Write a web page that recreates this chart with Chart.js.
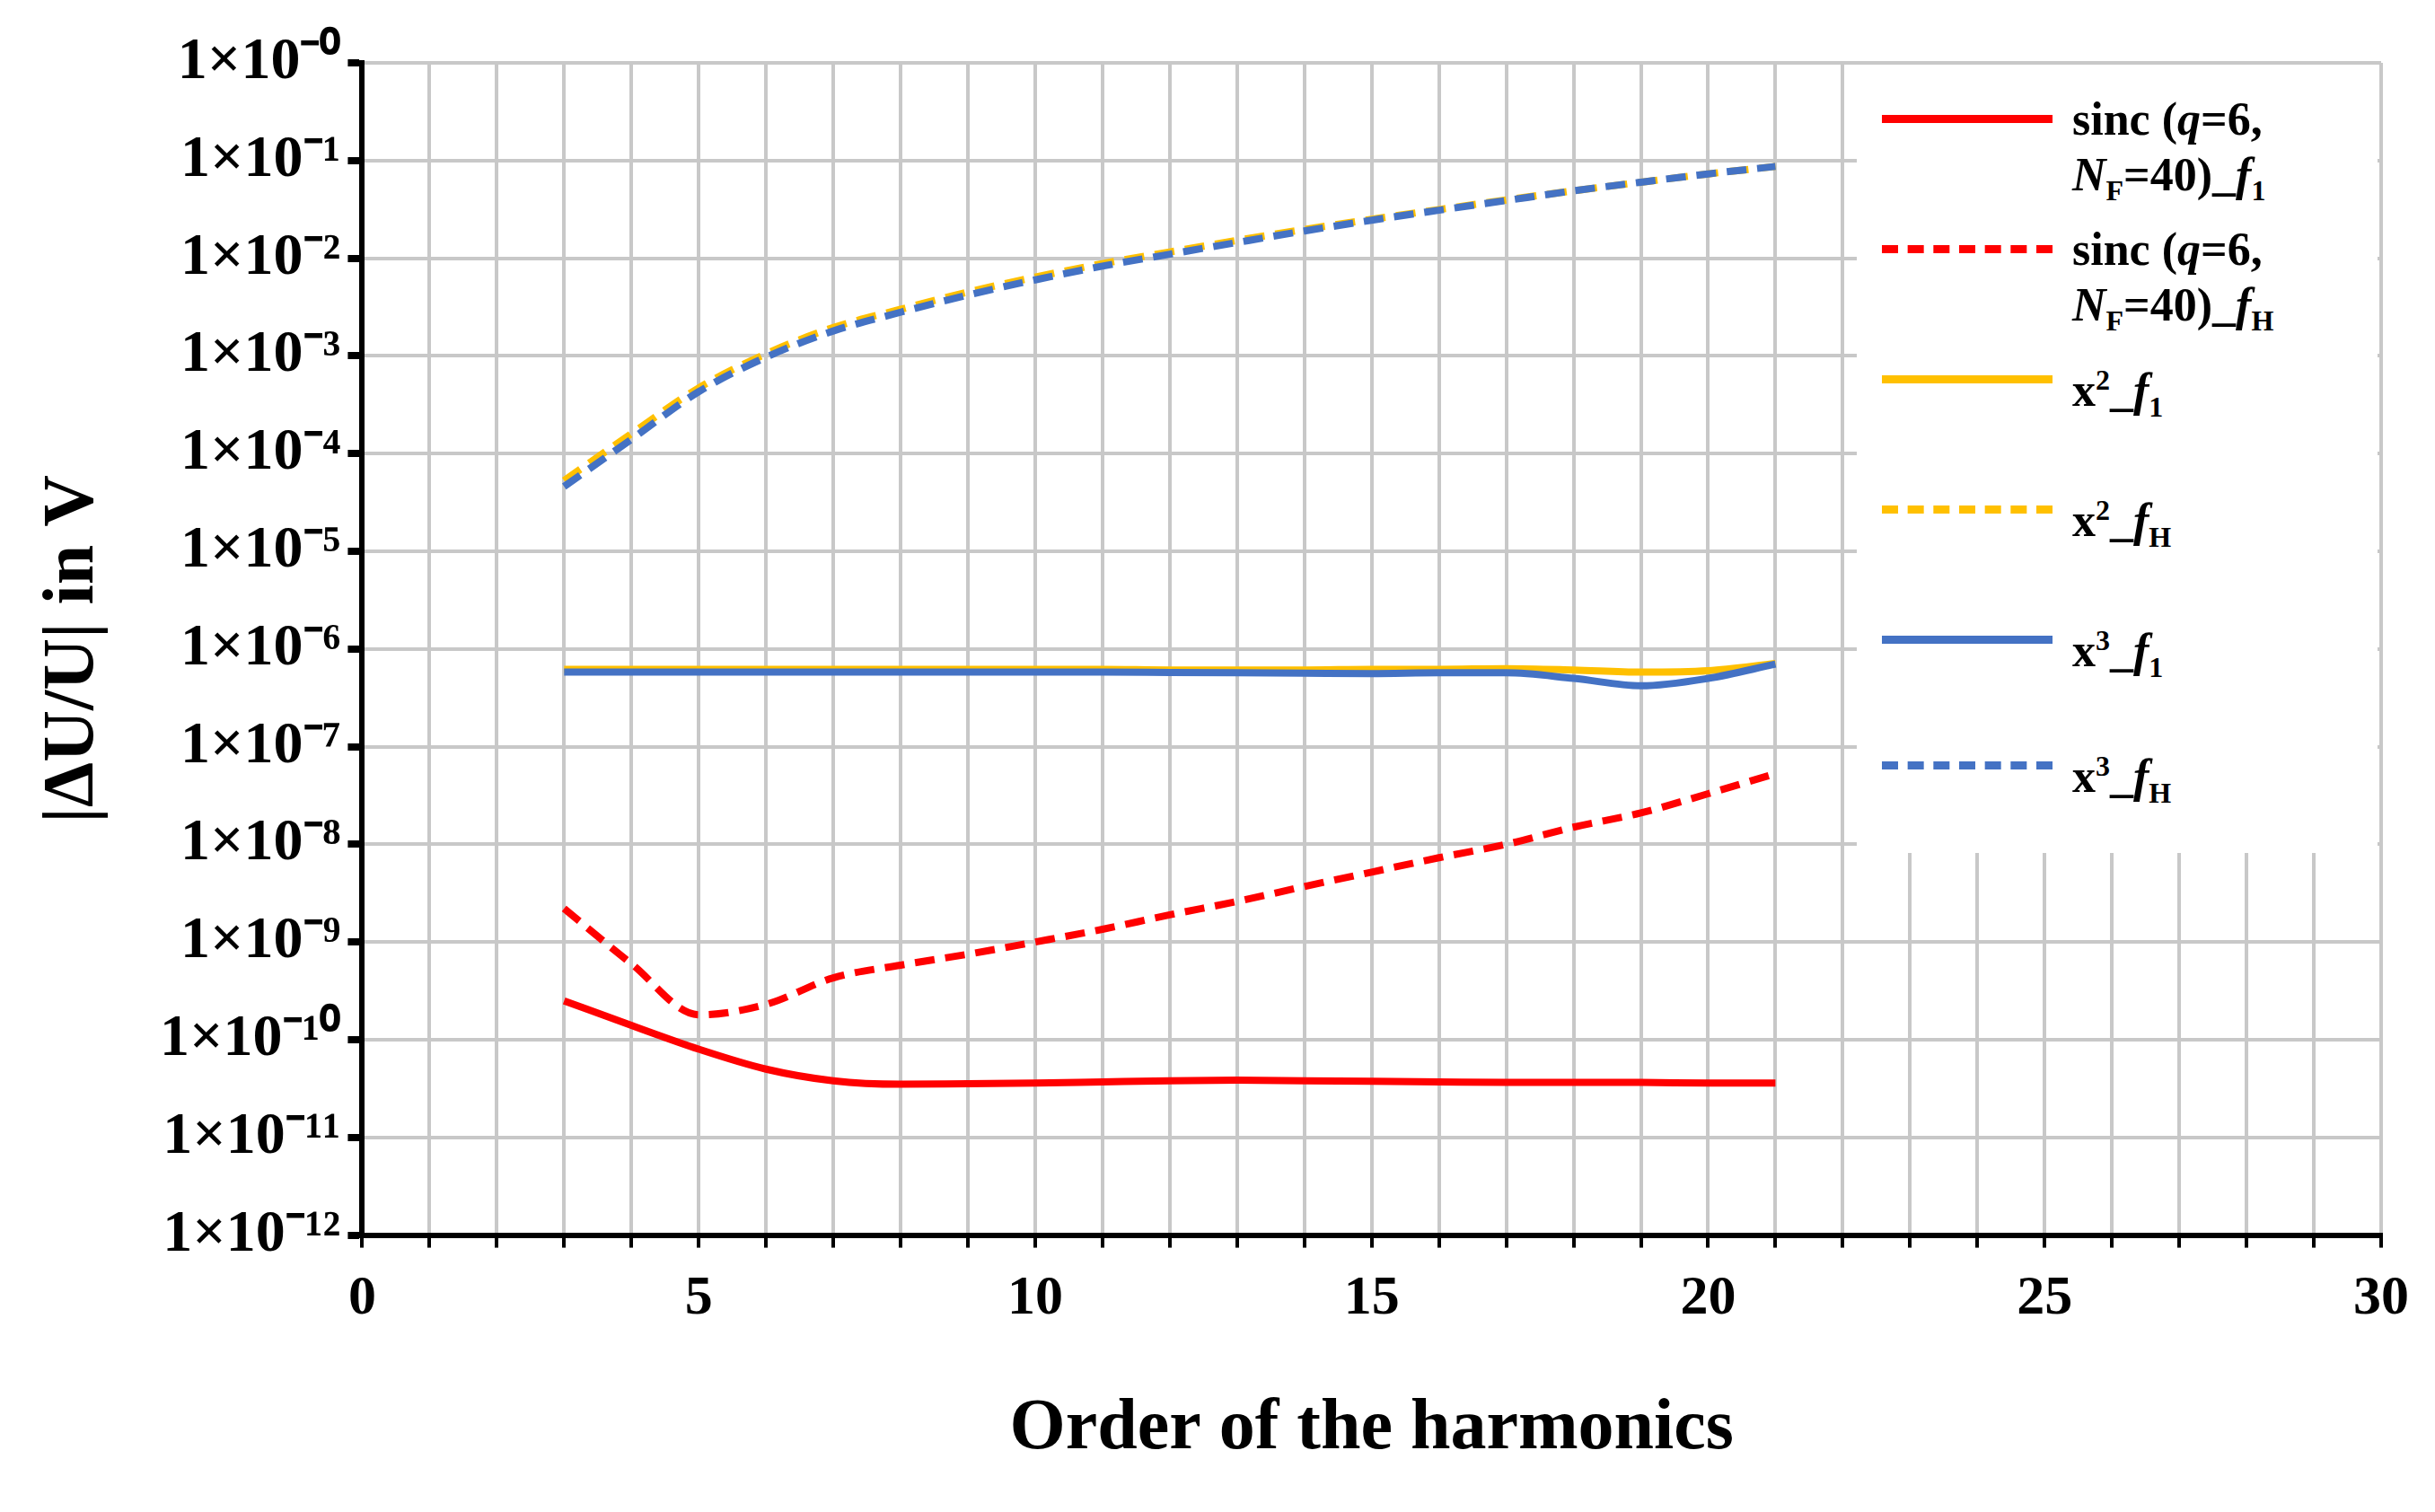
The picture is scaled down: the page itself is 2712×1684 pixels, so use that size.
<!DOCTYPE html>
<html>
<head>
<meta charset="utf-8">
<script src="https://cdn.jsdelivr.net/npm/chart.js@4"></script>
<style>
  body { margin: 0; background: #fff; font-family: "Liberation Serif", serif; }
  #wrap { position: relative; width: 2712px; height: 1684px; }
  #legend { position: absolute; left: 2068px; top: 72px; width: 580px; height: 878px; background: #fff;
            font-weight: bold; font-size: 52px; line-height: 62px; }
  .item { position: absolute; left: 28px; display: flex; align-items: flex-start; }
  .sw { width: 190px; height: 0; border-top: 9px solid; margin-top: 26px; margin-right: 22px; }
</style>
</head>
<body>
<div id="wrap">
  <canvas id="c" width="2712" height="1684"></canvas>
  <div id="legend"></div>
</div>
<script>
// harmonic orders
const orders = [3, 4, 5, 6, 7, 8, 9, 10, 11, 12, 13, 14, 15, 16, 17, 18, 19, 20, 21];

const sincF1 = [2.5e-10, 1.4e-10, 8e-11, 5e-11, 3.8e-11, 3.5e-11, 3.55e-11, 3.6e-11, 3.7e-11, 3.8e-11, 3.85e-11, 3.8e-11, 3.75e-11, 3.7e-11, 3.65e-11, 3.65e-11, 3.65e-11, 3.6e-11, 3.6e-11];
const sincFH = [2.2e-9, 6e-10, 1.8e-10, 2.3e-10, 4.3e-10, 5.8e-10, 7.5e-10, 1.0e-9, 1.35e-9, 1.9e-9, 2.6e-9, 3.7e-9, 5.2e-9, 7.3e-9, 1.0e-8, 1.5e-8, 2.1e-8, 3.3e-8, 5.3e-8];
const x2F1 = [6.2e-7, 6.2e-7, 6.2e-7, 6.2e-7, 6.2e-7, 6.2e-7, 6.2e-7, 6.2e-7, 6.2e-7, 6.1e-7, 6.1e-7, 6.1e-7, 6.2e-7, 6.2e-7, 6.3e-7, 6.1e-7, 5.8e-7, 6.0e-7, 7.1e-7];
const x2FH = [5.3e-5, 1.6e-4, 4.7e-4, 1.05e-3, 1.95e-3, 3.0e-3, 4.5e-3, 6.4e-3, 8.8e-3, 1.16e-2, 1.52e-2, 1.97e-2, 2.5e-2, 3.15e-2, 3.95e-2, 4.9e-2, 6.0e-2, 7.3e-2, 8.7e-2];
const x3F1 = [5.8e-7, 5.8e-7, 5.8e-7, 5.8e-7, 5.8e-7, 5.8e-7, 5.8e-7, 5.8e-7, 5.8e-7, 5.75e-7, 5.7e-7, 5.65e-7, 5.6e-7, 5.7e-7, 5.7e-7, 5.0e-7, 4.2e-7, 5.0e-7, 7.0e-7];
const x3FH = [4.6e-5, 1.4e-4, 4.3e-4, 9.7e-4, 1.8e-3, 2.8e-3, 4.2e-3, 6.0e-3, 8.3e-3, 1.1e-2, 1.45e-2, 1.9e-2, 2.45e-2, 3.1e-2, 3.9e-2, 4.9e-2, 6.0e-2, 7.3e-2, 8.7e-2];

const yTicks = [1e0, 1e-1, 1e-2, 1e-3, 1e-4, 1e-5, 1e-6, 1e-7, 1e-8, 1e-9, 1e-10, 1e-11, 1e-12];
const xLabels = [0, 5, 10, 15, 20, 25, 30];

const RED = '#ff0000', YEL = '#ffc000', BLUE = '#4472c4';

const sup = { '0': '⁰', '1': '¹', '2': '²', '3': '³', '4': '⁴', '5': '⁵', '6': '⁶', '7': '⁷', '8': '⁸', '9': '⁹', '-': '⁻' };
function expLabel(v) {
    const e = Math.round(Math.log10(v));
    const s = (e === 0 ? '-0' : String(e)).split('').map(ch => sup[ch]).join('');
    return '1×10' + s;
}

function pts(arr) { return orders.map((x, i) => ({ x: x, y: arr[i] })); }

function ds(data, color, dashed, order) {
    return {
        data: pts(data), borderColor: color, backgroundColor: color,
        borderWidth: 8, borderDash: dashed ? [22, 12] : [], pointRadius: 0,
        cubicInterpolationMode: 'monotone', fill: false, order: order
    };
}

new Chart(document.getElementById('c'), {
    type: 'line',
    data: {
        datasets: [
            ds(sincF1, RED, false, 1),
            ds(sincFH, RED, true, 2),
            ds(x2F1, YEL, false, 4),
            ds(x2FH, YEL, true, 6),
            ds(x3F1, BLUE, false, 3),
            ds(x3FH, BLUE, true, 5)
        ]
    },
    options: {
        responsive: false,
        animation: false,
        layout: { padding: { top: 70, right: 60, left: 30, bottom: 40 } },
        plugins: { legend: { display: false }, tooltip: { enabled: false } },
        scales: {
            x: {
                type: 'linear', min: 0, max: 30,
                ticks: {
                    stepSize: 1, autoSkip: false,
                    callback: v => xLabels.includes(v) ? String(v) : '',
                    color: '#000', font: { family: 'Liberation Serif', weight: 'bold', size: 62 }, padding: 20
                },
                grid: { color: '#c8c8c8', lineWidth: 4, tickLength: 14, tickColor: '#000', tickWidth: 4 },
                border: { color: '#000', width: 6 },
                title: { display: true, text: 'Order of the harmonics', color: '#000',
                         font: { family: 'Liberation Serif', weight: 'bold', size: 80 }, padding: { top: 40 } }
            },
            y: {
                type: 'logarithmic', min: 1e-12, max: 1,
                afterBuildTicks: axis => { axis.ticks = yTicks.map(v => ({ value: v })); },
                ticks: {
                    callback: v => expLabel(v),
                    color: '#000', font: { family: 'Liberation Serif', weight: 'bold', size: 66 }, padding: 8
                },
                grid: { color: '#c8c8c8', lineWidth: 4, tickLength: 16, tickColor: '#000', tickWidth: 8 },
                border: { color: '#000', width: 6 },
                title: { display: true, text: '|ΔU/U| in V', color: '#000',
                         font: { family: 'Liberation Serif', weight: 'bold', size: 80 }, padding: { bottom: 40 } }
            }
        }
    }
});

// legend
const legendItems = [
    { c: RED, d: false, t: 'sinc (<i>q</i>=6,<br><i>N</i><sub style="font-size:32px">F</sub>=40)_<i>f</i><sub style="font-size:32px">1</sub>', top: 30 },
    { c: RED, d: true, t: 'sinc (<i>q</i>=6,<br><i>N</i><sub style="font-size:32px">F</sub>=40)_<i>f</i><sub style="font-size:32px">H</sub>', top: 175 },
    { c: YEL, d: false, t: 'x<sup style="font-size:32px">2</sup>_<i>f</i><sub style="font-size:32px">1</sub>', top: 320 },
    { c: YEL, d: true, t: 'x<sup style="font-size:32px">2</sup>_<i>f</i><sub style="font-size:32px">H</sub>', top: 465 },
    { c: BLUE, d: false, t: 'x<sup style="font-size:32px">3</sup>_<i>f</i><sub style="font-size:32px">1</sub>', top: 610 },
    { c: BLUE, d: true, t: 'x<sup style="font-size:32px">3</sup>_<i>f</i><sub style="font-size:32px">H</sub>', top: 750 }
];
const legend = document.getElementById('legend');
legendItems.forEach(it => {
    const div = document.createElement('div');
    div.className = 'item';
    div.style.top = it.top + 'px';
    const sw = document.createElement('div');
    sw.className = 'sw';
    sw.style.borderTopColor = it.c;
    sw.style.borderTopStyle = it.d ? 'dashed' : 'solid';
    const tx = document.createElement('div');
    tx.innerHTML = it.t;
    div.appendChild(sw);
    div.appendChild(tx);
    legend.appendChild(div);
});
</script>
</body>
</html>
